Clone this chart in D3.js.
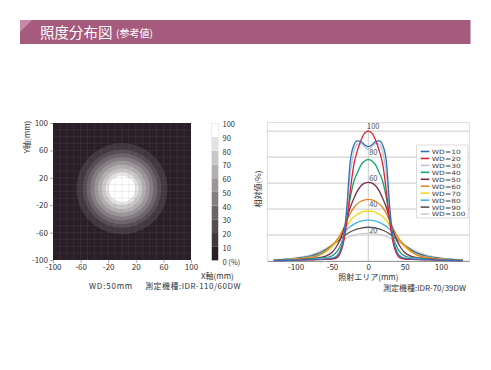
<!DOCTYPE html>
<html>
<head>
<meta charset="utf-8">
<script src="https://cdn.jsdelivr.net/npm/d3@7"></script>
<style>
body { margin: 0; background: #fff; }
text { font-family: "Noto Sans CJK JP", "Noto Sans", sans-serif; }
</style>
</head>
<body>
<svg id="chart"></svg>
<script>
// left: illuminance map
let mapTicks = [-100, -60, -20, 20, 60, 100];
let barTicks = [0, 10, 20, 30, 40, 50, 60, 70, 80, 90, 100];
let bandColors = ['#2a1f26', '#41383e', '#554d52', '#6b6469', '#837d81',
                  '#9b9699', '#b2afb1', '#c9c7c8', '#e4e3e3', '#ffffff'];
let ringLevels = [10, 20, 30, 40, 50, 60, 70, 80, 90];
let ringRadii = [66, 57, 51.5, 46, 40.5, 35, 29.5, 24, 19];
let spotCenter = [0, 4];

// right: relative illuminance profiles
let areaX = [-130, -120, -110, -100, -90, -80, -70, -60, -50, -45, -40, -35, -30, -25, -20, -15, -10, -5, 0,
             5, 10, 15, 20, 25, 30, 35, 40, 45, 50, 60, 70, 80, 90, 100, 110, 120, 130];
let profileTicks = [-100, -50, 0, 50, 100];
let gridLevels = [20, 40, 60, 80, 100];
let wdNames = ['WD=10', 'WD=20', 'WD=30', 'WD=40', 'WD=50', 'WD=60', 'WD=70', 'WD=80', 'WD=90', 'WD=100'];
let wdColors = ['#2f6fb3', '#e0222e', '#b9c3e3', '#16a36d', '#7b2b4c', '#e8841f', '#f7d51e', '#43b3e3', '#555555', '#cfcfcf'];
let wd10 = [0.3, 0.4, 0.5, 0.6, 0.8, 1, 1.2, 1.5, 2, 3, 6, 15, 38, 76, 89, 92.5, 92, 89.5, 88, 89.5, 92, 92.5, 89, 76, 38, 15, 6, 3, 2, 1.5, 1.2, 1, 0.8, 0.6, 0.5, 0.4, 0.3];
let wd20 = [0.3, 0.4, 0.5, 0.6, 0.7, 0.9, 1, 1.2, 1.5, 2, 4.5, 12, 28, 53, 74, 85, 93, 98.5, 100, 98.5, 93, 85, 74, 53, 28, 12, 4.5, 2, 1.5, 1.2, 1, 0.9, 0.7, 0.6, 0.5, 0.4, 0.3];
let wd30 = [0.4, 0.5, 0.6, 0.8, 1, 1.2, 1.5, 2, 2.5, 3.5, 7, 16, 36, 66, 84, 90, 90.5, 88, 86, 88, 90.5, 90, 84, 66, 36, 16, 7, 3.5, 2.5, 2, 1.5, 1.2, 1, 0.8, 0.6, 0.5, 0.4];
let wd40 = [0.5, 0.6, 0.8, 1, 1.2, 1.5, 2, 2.5, 4, 6, 10, 17, 31, 48, 61, 68, 74, 77, 78, 77, 74, 68, 61, 48, 31, 17, 10, 6, 4, 2.5, 2, 1.5, 1.2, 1, 0.8, 0.6, 0.5];
let wd50 = [0.5, 0.7, 0.9, 1.1, 1.4, 1.8, 2.4, 3.5, 6.5, 10, 15, 22, 31, 41, 48, 54, 58, 60, 60.5, 60, 58, 54, 48, 41, 31, 22, 15, 10, 6.5, 3.5, 2.4, 1.8, 1.4, 1.1, 0.9, 0.7, 0.5];
let wd60 = [0.6, 0.8, 1.1, 1.4, 1.9, 2.6, 4, 7, 12, 15, 19, 24, 30.5, 36.5, 41, 44, 46, 47, 47.5, 47, 46, 44, 41, 36.5, 30.5, 24, 19, 15, 12, 7, 4, 2.6, 1.9, 1.4, 1.1, 0.8, 0.6];
let wd70 = [0.7, 0.9, 1.2, 1.5, 2, 2.8, 4, 6.5, 11, 14, 18, 22.5, 27, 31, 34, 36, 37.5, 38.3, 38.5, 38.3, 37.5, 36, 34, 31, 27, 22.5, 18, 14, 11, 6.5, 4, 2.8, 2, 1.5, 1.2, 0.9, 0.7];
let wd80 = [0.8, 1, 1.4, 1.8, 2.4, 3.3, 4.8, 7.5, 12, 14.8, 17.8, 21, 24, 26.5, 28.3, 29.8, 30.8, 31.3, 31.5, 31.3, 30.8, 29.8, 28.3, 26.5, 24, 21, 17.8, 14.8, 12, 7.5, 4.8, 3.3, 2.4, 1.8, 1.4, 1, 0.8];
let wd90 = [0.8, 1.1, 1.5, 2, 2.8, 3.8, 5.5, 8.3, 12.2, 14.2, 16.4, 18.6, 20.6, 22.3, 23.7, 24.7, 25.4, 25.8, 26, 25.8, 25.4, 24.7, 23.7, 22.3, 20.6, 18.6, 16.4, 14.2, 12.2, 8.3, 5.5, 3.8, 2.8, 2, 1.5, 1.1, 0.8];
let wd100 = [0.9, 1.2, 1.7, 2.4, 3.3, 4.6, 6.6, 9.2, 12.2, 13.6, 15, 16.4, 17.7, 18.8, 19.7, 20.4, 20.9, 21.2, 21.3, 21.2, 20.9, 20.4, 19.7, 18.8, 17.7, 16.4, 15, 13.6, 12.2, 9.2, 6.6, 4.6, 3.3, 2.4, 1.7, 1.2, 0.9];
let wdValues = [wd10, wd20, wd30, wd40, wd50, wd60, wd70, wd80, wd90, wd100];

let w = 491, h = 370;
let svg = d3.select('#chart').attr('width', w).attr('height', h);
svg.append('rect').attr('width', w).attr('height', h).attr('fill', '#fff');

// header bar
svg.append('rect')
    .attr('x', 20).attr('y', 20).attr('width', 450.5).attr('height', 24)
    .attr('fill', '#a65b7e');
svg.append('path')
    .attr('d', 'M20,20 L32,20 L20,32 Z')
    .attr('fill', '#c98aa8');
svg.append('text')
    .attr('x', 40).attr('y', 37.5)
    .attr('fill', '#fff').attr('font-size', 14.5)
    .text('照度分布図');
svg.append('text')
    .attr('x', 116).attr('y', 36.5)
    .attr('fill', '#fff').attr('font-size', 10)
    .text('(参考値)');

// ---- left map ----
let mx = d3.scaleLinear().domain([-100, 100]).range([53, 191]);
let my = d3.scaleLinear().domain([-100, 100]).range([260, 123]);

let map = svg.append('g');
map.append('rect')
    .attr('x', mx(-100)).attr('y', my(100))
    .attr('width', mx(100) - mx(-100)).attr('height', my(-100) - my(100))
    .attr('fill', bandColors[0]);

map.selectAll('circle.ring')
    .data(ringLevels)
    .enter()
    .append('circle')
    .attr('class', 'ring')
    .attr('cx', mx(spotCenter[0]))
    .attr('cy', my(spotCenter[1]))
    .attr('r', (d, i) => mx(ringRadii[i]) - mx(0))
    .attr('fill', (d, i) => bandColors[i + 1]);

// faint grid over the map
let gridVals = d3.range(-90, 100, 10);
map.selectAll('line.gx')
    .data(gridVals)
    .enter()
    .append('line')
    .attr('x1', d => mx(d)).attr('x2', d => mx(d))
    .attr('y1', my(100)).attr('y2', my(-100))
    .attr('stroke', '#8a8088').attr('stroke-opacity', 0.22).attr('stroke-width', 0.6);
map.selectAll('line.gy')
    .data(gridVals)
    .enter()
    .append('line')
    .attr('y1', d => my(d)).attr('y2', d => my(d))
    .attr('x1', mx(-100)).attr('x2', mx(100))
    .attr('stroke', '#8a8088').attr('stroke-opacity', 0.22).attr('stroke-width', 0.6);

let mxAxis = d3.axisBottom(mx).tickValues(mapTicks).tickFormat(d => String(d)).tickSize(3).tickPadding(1.5);
let myAxis = d3.axisLeft(my).tickValues(mapTicks).tickFormat(d => String(d)).tickSize(3).tickPadding(2);

map.append('g')
    .attr('transform', `translate(0, ${my(-100)})`)
    .call(mxAxis)
    .call(g => g.select('.domain').remove());
map.append('g')
    .attr('transform', `translate(${mx(-100)}, 0)`)
    .call(myAxis)
    .call(g => g.select('.domain').remove());
map.selectAll('.tick line').attr('stroke', '#aaa');
map.selectAll('.tick text').attr('fill', '#333').attr('font-size', 8)
    .style('font-family', '"Noto Sans CJK JP", sans-serif');

map.append('text')
    .attr('transform', 'translate(30, 137) rotate(-90)')
    .attr('text-anchor', 'middle')
    .attr('font-size', 8).attr('fill', '#333')
    .text('Y軸(mm)');
map.append('text')
    .attr('x', 201).attr('y', 278.5)
    .attr('font-size', 8).attr('fill', '#333')
    .text('X軸(mm)');
map.append('text')
    .attr('x', 89).attr('y', 289)
    .attr('font-size', 8).attr('fill', '#333').attr('letter-spacing', 0.8)
    .text('WD:50mm');
map.append('text')
    .attr('x', 145).attr('y', 289)
    .attr('font-size', 8).attr('fill', '#333').attr('letter-spacing', 0.5)
    .text('測定機種:IDR-110/60DW');

// colour bar
let cb = d3.scaleLinear().domain([0, 100]).range([260.5, 123.3]);
let bar = svg.append('g');
bar.selectAll('rect')
    .data(bandColors)
    .enter()
    .append('rect')
    .attr('x', 211.7).attr('width', 6.6)
    .attr('y', (d, i) => cb((i + 1) * 10))
    .attr('height', cb(0) - cb(10))
    .attr('fill', d => d);
bar.append('rect')
    .attr('x', 211.7).attr('width', 6.6)
    .attr('y', cb(100)).attr('height', cb(0) - cb(100))
    .attr('fill', 'none').attr('stroke', '#ddd').attr('stroke-width', 0.5);
bar.selectAll('text')
    .data(barTicks)
    .enter()
    .append('text')
    .attr('x', 222.5)
    .attr('y', d => cb(d) + 4)
    .attr('font-size', 7.5).attr('fill', '#333')
    .text(d => d === 0 ? '0 (%)' : d);

// ---- right profile chart ----
let px = d3.scaleLinear().domain([-139, 139]).range([267.3, 469.3]);
let py = d3.scaleLinear().domain([0, 106.5]).range([261, 122.7]);

let prof = svg.append('g');
prof.append('rect')
    .attr('x', px(-139)).attr('y', py(106.5))
    .attr('width', px(139) - px(-139)).attr('height', py(0) - py(106.5))
    .attr('fill', '#fff').attr('stroke', '#d4d4d4').attr('stroke-width', 0.8);

prof.selectAll('line.grid')
    .data(gridLevels)
    .enter()
    .append('line')
    .attr('x1', px(-139)).attr('x2', px(139))
    .attr('y1', d => py(d)).attr('y2', d => py(d))
    .attr('stroke', '#bdbdbd').attr('stroke-width', 0.8);
prof.append('line')
    .attr('x1', px(0)).attr('x2', px(0))
    .attr('y1', py(106.5)).attr('y2', py(0))
    .attr('stroke', '#bdbdbd').attr('stroke-width', 0.8);

prof.selectAll('text.glabel')
    .data(gridLevels)
    .enter()
    .append('text')
    .attr('x', px(0) + 5)
    .attr('y', d => py(d) - 2.5)
    .attr('text-anchor', 'middle')
    .attr('font-size', 7.5).attr('fill', '#555')
    .text(d => d);

let pxAxis = d3.axisBottom(px).tickValues(profileTicks).tickFormat(d => String(d)).tickSize(0).tickPadding(3);
prof.append('g')
    .attr('transform', `translate(0, ${py(0)})`)
    .call(pxAxis)
    .call(g => g.select('.domain').attr('stroke', '#999'))
    .call(g => g.selectAll('text').attr('fill', '#333').attr('font-size', 8)
        .style('font-family', '"Noto Sans CJK JP", sans-serif'));

let line = d3.line()
    .x((d, i) => px(areaX[i]))
    .y(d => py(d))
    .curve(d3.curveMonotoneX);

let order = d3.range(wdValues.length).reverse();
prof.selectAll('path.wd')
    .data(order)
    .enter()
    .append('path')
    .attr('class', 'wd')
    .attr('d', i => line(wdValues[i]))
    .attr('fill', 'none')
    .attr('stroke', i => wdColors[i])
    .attr('stroke-width', 1.3);

// legend (text squeezed vertically, rows are tight like the original)
let legend = prof.append('g');
legend.append('rect')
    .attr('x', 416.7).attr('y', 145)
    .attr('width', 51.3).attr('height', 73)
    .attr('fill', '#fff').attr('stroke', '#ccc').attr('stroke-width', 0.7);
let items = legend.selectAll('g.item')
    .data(wdNames)
    .enter()
    .append('g')
    .attr('transform', (d, i) => `translate(420.7, ${151.5 + i * 6.95})`);
items.append('line')
    .attr('x1', 0).attr('x2', 8.6)
    .attr('stroke', (d, i) => wdColors[i]).attr('stroke-width', 1.6);
items.append('text')
    .attr('transform', 'translate(11, 2.4) scale(1, 0.78)')
    .attr('font-size', 7.5).attr('fill', '#444')
    .style('font-family', '"DejaVu Sans", sans-serif')
    .text(d => d);

prof.append('text')
    .attr('transform', 'translate(261, 189) rotate(-90)')
    .attr('text-anchor', 'middle')
    .attr('font-size', 8).attr('fill', '#333')
    .text('相対値(%)');
prof.append('text')
    .attr('x', px(0)).attr('y', 280)
    .attr('text-anchor', 'middle')
    .attr('font-size', 8).attr('fill', '#333')
    .text('照射エリア(mm)');
prof.append('text')
    .attr('x', 466).attr('y', 290.5)
    .attr('text-anchor', 'end')
    .attr('font-size', 8).attr('fill', '#333')
    .text('測定機種:IDR-70/39DW');
</script>
</body>
</html>
